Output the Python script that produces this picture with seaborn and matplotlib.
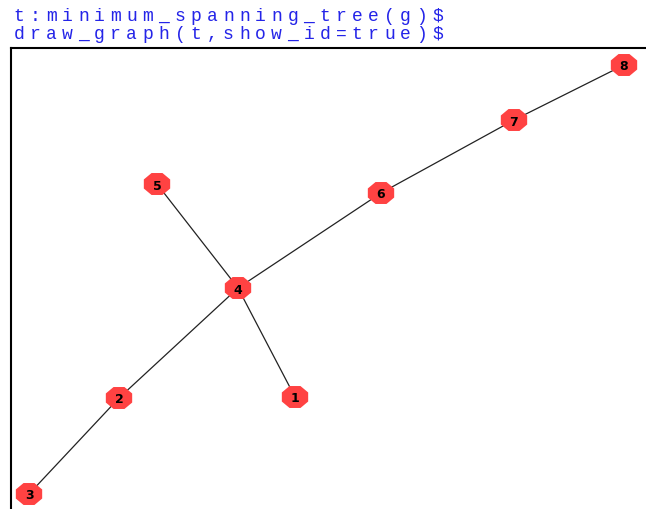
import matplotlib
matplotlib.use("Agg")
import matplotlib.pyplot as plt
from matplotlib.path import Path
import numpy as np
import seaborn as sns
import pandas as pd

# node ids and positions (axes pixel units)
node_ids = [1, 2, 3, 4, 5, 6, 7, 8]
node_x = [284, 108, 18, 227, 146, 370, 503, 613]
node_y = [112, 111, 15, 221, 325, 316, 389, 444]

# tree edges
edge_from = [8, 7, 6, 5, 4, 4, 2]
edge_to = [7, 6, 4, 4, 1, 2, 3]

cmd_lines = ["t:minimum_spanning_tree(g)$", "draw_graph(t,show_id=true)$"]

sns.set_theme(style="white")
plt.rcParams["font.family"] = ["DejaVu Sans"]

fig = plt.figure(figsize=(6.46, 5.10), dpi=100)
ax = fig.add_axes([11 / 646, 0, 635 / 646, 461 / 510])

nodes = pd.DataFrame({"id": node_ids, "x": node_x, "y": node_y})
pos = nodes.set_index("id")

for a, b in zip(edge_from, edge_to):
    ax.plot([pos.loc[a, "x"], pos.loc[b, "x"]], [pos.loc[a, "y"], pos.loc[b, "y"]],
            color="#222222", lw=0.9, zorder=1)

# slightly wide octagon marker
ang = np.deg2rad(22.5 + 45 * np.arange(9))
octo = Path(np.column_stack([1.2 * np.cos(ang), np.sin(ang)]), closed=True)

sns.scatterplot(data=nodes, x="x", y="y", marker=octo, s=360, color="#ff4242",
                edgecolor="none", linewidth=0, ax=ax, zorder=2, legend=False)

for i, row in nodes.iterrows():
    ax.text(row["x"], row["y"] - 1, str(row["id"]), ha="center", va="center",
            fontsize=9, fontweight="bold", color="black", zorder=3)

ax.set_xlim(0, 635)
ax.set_ylim(0, 461)
ax.set_xticks([])
ax.set_yticks([])
ax.set_xlabel("")
ax.set_ylabel("")
for side in ["right", "bottom"]:
    ax.spines[side].set_visible(False)
for side in ["left", "top"]:
    ax.spines[side].set_color("black")
    ax.spines[side].set_linewidth(1.5)

# maxima input lines, wide-tracked monospace
char_w = 16.1
for k, line in enumerate(cmd_lines):
    yy = 1 - (21 + 18 * k) / 510
    for i, ch in enumerate(line):
        fig.text((13 + char_w * i + 6) / 646, yy, ch, ha="center", va="baseline",
                 fontsize=13, family="Liberation Mono", color="#2424e8")

fig.savefig("out.png", dpi=100)
